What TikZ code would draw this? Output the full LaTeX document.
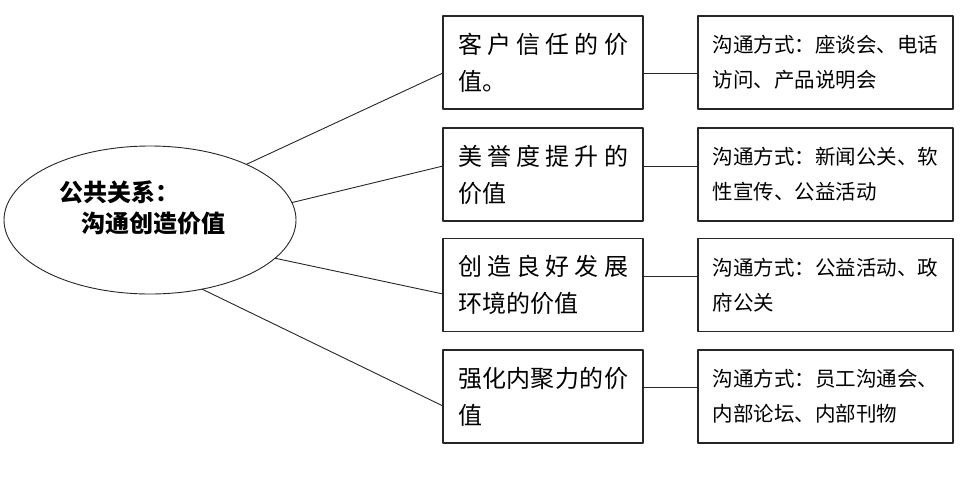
\documentclass[tikz,border=0pt]{standalone}
\usepackage{fontspec}
\setmainfont{Noto Sans CJK SC}
\usetikzlibrary{shapes.geometric}
\newcommand{\spreadrow}[1]{\hbox to\linewidth{#1}}
\begin{document}
\begin{tikzpicture}[x=1pt,y=-1pt,line join=round,line cap=round]
	\tikzset{hub/.style={draw=black!85,ellipse,line width=0.9pt,minimum width=292pt,minimum height=148pt,inner sep=0pt,outer sep=0pt},
		valuebox/.style={draw=black!85,rectangle,line width=1.2pt,minimum width=200pt,minimum height=93pt,text width=170pt,inner xsep=14pt,inner ysep=0pt,outer sep=0pt,align=left,font=\fontsize{24pt}{37pt}\selectfont},
		waybox/.style={draw=black!85,rectangle,line width=1.2pt,minimum width=255pt,minimum height=93pt,text width=226pt,inner xsep=14.5pt,inner ysep=0pt,outer sep=0pt,align=left,font=\fontsize{20.5pt}{35pt}\selectfont},
		link/.style={draw=black!85,line width=0.9pt}}
	\useasboundingbox (0,0) rectangle (960,493);
	% centre
	\node[hub] (pr) at (150,220) {};
	\node[align=left,anchor=north west,inner sep=0pt,font=\bfseries\fontsize{24pt}{31pt}\selectfont] (prtext) at (59,181) {公共关系：\\\hspace*{22pt}沟通创造价值};
	% values
	\node[valuebox] (v1) at (543,62.5) {\spreadrow{客\hfill 户\hfill 信\hfill 任\hfill 的\hfill 价}\\值。};
	\node[valuebox] (v2) at (543,174.5) {\spreadrow{美\hfill 誉\hfill 度\hfill 提\hfill 升\hfill 的}\\价值};
	\node[valuebox] (v3) at (543,285) {\spreadrow{创\hfill 造\hfill 良\hfill 好\hfill 发\hfill 展}\\环境的价值};
	\node[valuebox] (v4) at (543,396.5) {\spreadrow{强\hfill 化\hfill 内\hfill 聚\hfill 力\hfill 的\hfill 价}\\值};
	% ways
	\node[waybox] (w1) at (825.5,62.5) {沟通方式：座谈会、电话\\访问、产品说明会};
	\node[waybox] (w2) at (825.5,174.5) {沟通方式：新闻公关、软\\性宣传、公益活动};
	\node[waybox] (w3) at (825.5,285) {沟通方式：公益活动、政\\府公关};
	\node[waybox] (w4) at (825.5,396.5) {沟通方式：员工沟通会、\\内部论坛、内部刊物};
	% links
	\foreach \i/\a/\p/\q in {1/30/-10.5/-10.5,2/7/8.5/8.5,3/-17/-9/9,4/-53/-9.5/9.5}
	{\draw[link] (pr.\a)--([yshift=\p pt]v\i.west);
	\draw[link] ([yshift=\q pt]v\i.east)--([yshift=\q pt]w\i.west);}
\end{tikzpicture}
\end{document}
